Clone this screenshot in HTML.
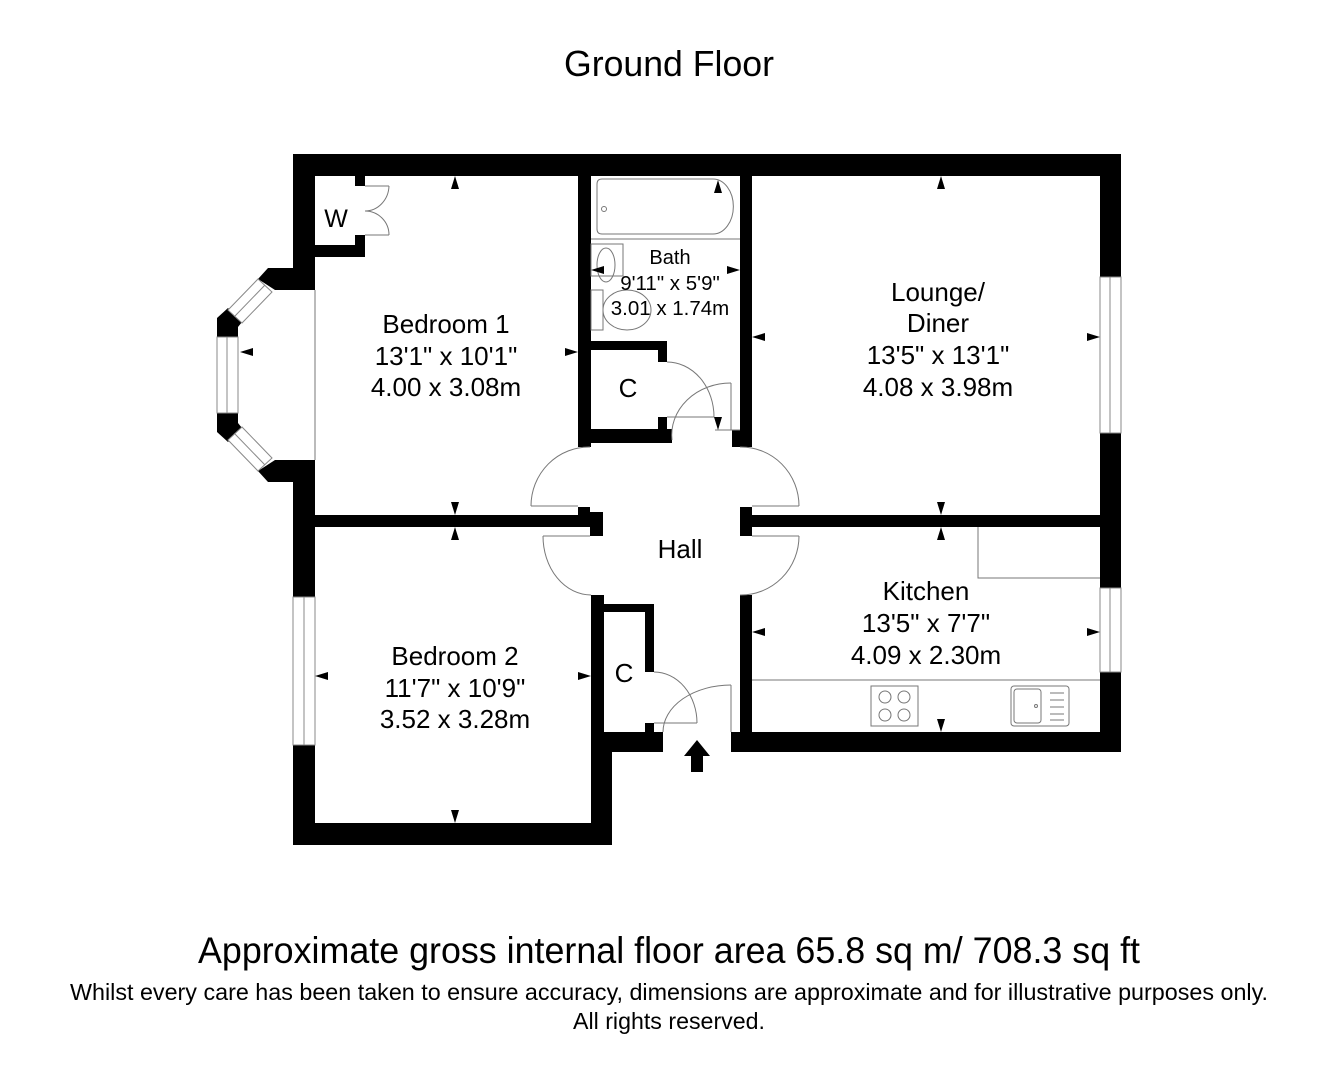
<!DOCTYPE html>
<html><head><meta charset="utf-8"><style>
html,body{margin:0;padding:0;background:#fff;}
svg{display:block;}
text{font-family:"Liberation Sans",Arial,sans-serif;fill:#000;}
</style></head><body>
<svg width="1329" height="1080" viewBox="0 0 1329 1080" xmlns="http://www.w3.org/2000/svg">
<rect width="1329" height="1080" fill="#fff"/>
<text x="669" y="76" font-size="36" text-anchor="middle" textLength="210" lengthAdjust="spacingAndGlyphs">Ground Floor</text>

<g fill="#000">
<rect x="293" y="154" width="828" height="22"/>
<rect x="293" y="154" width="22" height="115"/>
<rect x="293" y="460" width="22" height="137"/>
<rect x="293" y="745" width="22" height="100"/>
<rect x="293" y="823" width="319" height="22"/>
<rect x="591" y="732" width="21" height="113"/>
<rect x="1100" y="154" width="21" height="123"/>
<rect x="1100" y="433" width="21" height="155"/>
<rect x="1100" y="672" width="21" height="80"/>
<rect x="731" y="732" width="390" height="20"/>
<rect x="315" y="245" width="50" height="12"/>
<rect x="355" y="176" width="10" height="10"/>
<rect x="355" y="235" width="10" height="22"/>
<rect x="578" y="176" width="13" height="271"/>
<rect x="740" y="176" width="12" height="271"/>
<rect x="732" y="430" width="10" height="17"/>
<rect x="591" y="341" width="76" height="9"/>
<rect x="658" y="341" width="9" height="21"/>
<rect x="591" y="429" width="81" height="14"/>
<rect x="658" y="417" width="9" height="26"/>
<rect x="315" y="515" width="275" height="12"/>
<rect x="578" y="507" width="12" height="8"/>
<rect x="590" y="512" width="13" height="24"/>
<rect x="740" y="507" width="12" height="29"/>
<rect x="752" y="515" width="348" height="12"/>
<rect x="591" y="595" width="13" height="140"/>
<rect x="604" y="604" width="49" height="8"/>
<rect x="645" y="604" width="9" height="68"/>
<rect x="645" y="723" width="9" height="12"/>
<rect x="591" y="732" width="72" height="20"/>
<rect x="740" y="595" width="12" height="140"/>
<polygon points="268,268 315,268 315,290 275,290 258,279"/>
<polygon points="268,482 315,482 315,460 275,460 258,471"/>
<polygon points="217,318 228,308 242,322 238,327 238,337 217,337"/>
<polygon points="217,432 228,442 242,428 238,423 238,413 217,413"/>
<polygon points="697,740 684,756 691,756 691,772 703,772 703,756 710,756"/>
</g>

<g fill="#fff" stroke="#888" stroke-width="1">
<rect x="217" y="337" width="21" height="76"/>
<line x1="227" y1="337" x2="227" y2="413"/>
<polygon points="258,279 272,292 242,323 228,310"/>
<line x1="265" y1="285" x2="235" y2="316"/>
<polygon points="258,471 272,458 242,427 228,440"/>
<line x1="265" y1="465" x2="235" y2="434"/>
<rect x="1100" y="277" width="21" height="156"/>
<line x1="1110" y1="277" x2="1110" y2="433"/>
<rect x="1100" y="588" width="21" height="84"/>
<line x1="1110" y1="588" x2="1110" y2="672"/>
<rect x="293" y="597" width="22" height="148"/>
<line x1="304" y1="597" x2="304" y2="745"/>
</g>

<g fill="none" stroke="#777" stroke-width="1">
<line x1="315" y1="290" x2="315" y2="460"/>
<line x1="365" y1="186" x2="389" y2="186"/>
<path d="M389,186 A24,26 0 0 1 365,211"/>
<line x1="365" y1="235" x2="389" y2="235"/>
<path d="M389,235 A24,24 0 0 0 365,211"/>
<path d="M602,179 H713 A20,27 0 0 1 713,234 H602 Q597,234 597,229 V184 Q597,179 602,179 Z"/>
<circle cx="604" cy="209" r="2.5"/>
<line x1="591" y1="239" x2="740" y2="239"/>
<rect x="591" y="244" width="32" height="32"/>
<ellipse cx="606" cy="265" rx="9" ry="17"/>
<rect x="591" y="290" width="12" height="40"/>
<ellipse cx="627" cy="310" rx="24" ry="20"/>
<line x1="667" y1="417" x2="714" y2="417"/>
<path d="M667,362 A47,55 0 0 1 714,417"/>
<line x1="731" y1="383" x2="731" y2="430"/>
<path d="M731,383 A59,52 0 0 0 672,440"/>
<line x1="715" y1="430" x2="740" y2="430"/>
<line x1="531" y1="506" x2="578" y2="506"/>
<path d="M531,506 A58,59 0 0 1 590,447"/>
<line x1="752" y1="506" x2="799" y2="506"/>
<path d="M799,506 A58,59 0 0 0 740,447"/>
<line x1="543" y1="536" x2="590" y2="536"/>
<path d="M543,536 A48,59 0 0 0 591,595"/>
<line x1="752" y1="536" x2="799" y2="536"/>
<path d="M799,536 A58,59 0 0 1 740,595"/>
<line x1="654" y1="723" x2="697" y2="723"/>
<path d="M654,672 A43,51 0 0 1 697,723"/>
<line x1="731" y1="685" x2="731" y2="732"/>
<path d="M731,685 A68,47 0 0 0 663,732"/>
<path d="M978,527 V578 H1100"/>
<line x1="752" y1="680" x2="1100" y2="680"/>
<rect x="871" y="686" width="47" height="40"/>
<circle cx="885" cy="697" r="6"/><circle cx="904" cy="697" r="6"/>
<circle cx="885" cy="715" r="6"/><circle cx="904" cy="715" r="6"/>
<rect x="1011" y="686" width="58" height="40" rx="3"/>
<rect x="1014" y="689" width="27" height="34" rx="3"/>
<circle cx="1036" cy="706" r="1.5"/>
<line x1="1050" y1="693" x2="1064" y2="693"/><line x1="1050" y1="700" x2="1064" y2="700"/>
<line x1="1050" y1="707" x2="1064" y2="707"/><line x1="1050" y1="714" x2="1064" y2="714"/>
<line x1="1050" y1="720" x2="1064" y2="720"/>
</g>

<g fill="#000">
<polygon points="455,176 451,189 459,189"/>
<polygon points="455,515 451,502 459,502"/>
<polygon points="240,352 253,348 253,356"/>
<polygon points="578,352 565,348 565,356"/>
<polygon points="941,176 937,189 945,189"/>
<polygon points="941,515 937,502 945,502"/>
<polygon points="752,337 765,333 765,341"/>
<polygon points="1100,337 1087,333 1087,341"/>
<polygon points="718,180 714,193 722,193"/>
<polygon points="718,430 714,417 722,417"/>
<polygon points="591,270 604,266 604,274"/>
<polygon points="740,270 727,266 727,274"/>
<polygon points="455,527 451,540 459,540"/>
<polygon points="455,823 451,810 459,810"/>
<polygon points="315,676 328,672 328,680"/>
<polygon points="591,676 578,672 578,680"/>
<polygon points="941,527 937,540 945,540"/>
<polygon points="941,732 937,719 945,719"/>
<polygon points="752,632 765,628 765,636"/>
<polygon points="1100,632 1087,628 1087,636"/>
</g>

<g font-size="26" text-anchor="middle">
<text x="336" y="227" font-size="25">W</text>
<text x="446" y="333">Bedroom 1</text>
<text x="446" y="365">13'1" x 10'1"</text>
<text x="446" y="396">4.00 x 3.08m</text>
<text x="670" y="264" font-size="20">Bath</text>
<text x="670" y="290" font-size="20.5">9'11" x 5'9"</text>
<text x="670" y="315" font-size="20.5">3.01 x 1.74m</text>
<text x="628" y="397">C</text>
<text x="938" y="301">Lounge/</text>
<text x="938" y="332">Diner</text>
<text x="938" y="364">13'5" x 13'1"</text>
<text x="938" y="396">4.08 x 3.98m</text>
<text x="680" y="558">Hall</text>
<text x="926" y="600">Kitchen</text>
<text x="926" y="632">13'5" x 7'7"</text>
<text x="926" y="664">4.09 x 2.30m</text>
<text x="455" y="665">Bedroom 2</text>
<text x="455" y="697">11'7" x 10'9"</text>
<text x="455" y="728">3.52 x 3.28m</text>
<text x="624" y="682">C</text>
</g>

<text x="669" y="963" font-size="37" text-anchor="middle" textLength="942" lengthAdjust="spacingAndGlyphs">Approximate gross internal floor area 65.8 sq m/ 708.3 sq ft</text>
<text x="669" y="1000" font-size="23" text-anchor="middle" textLength="1198" lengthAdjust="spacingAndGlyphs">Whilst every care has been taken to ensure accuracy, dimensions are approximate and for illustrative purposes only.</text>
<text x="669" y="1029" font-size="23" text-anchor="middle" textLength="192" lengthAdjust="spacingAndGlyphs">All rights reserved.</text>
</svg>
</body></html>
